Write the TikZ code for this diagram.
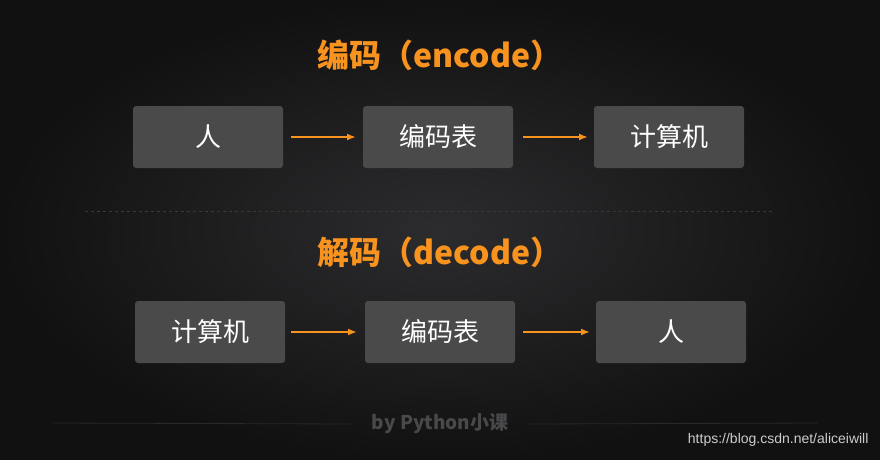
\documentclass[tikz,border=0pt]{standalone}
\usepackage{fontspec}
\setmainfont{Noto Sans CJK SC}
\newfontfamily\urlfont{Liberation Sans}
\usetikzlibrary{positioning,shadings,arrows.meta}
\definecolor{codeorange}{HTML}{F7931E}
\definecolor{boxgray}{HTML}{4A4A4A}
\definecolor{bgcenter}{HTML}{2C2C2E}
\definecolor{bgedge}{HTML}{111112}
\tikzset{
    %Define style for boxes
    cbox/.style={
           rectangle,
           rounded corners=3pt,
           fill=boxgray,
           text=white,
           minimum width=150pt,
           minimum height=62pt,
           font=\fontsize{26}{26}\selectfont},
    % Define arrow style
    parrow/.style={
           -{Latex[length=9pt,width=7pt]},
           codeorange,
           line width=2pt},
    ctitle/.style={
           text=codeorange,
           font=\fontsize{32}{32}\selectfont\bfseries}
}
\begin{document}
\begin{tikzpicture}[x=1pt,y=-1pt]
\shade[inner color=bgcenter,outer color=bgedge] (0,0) rectangle (880,460);
\useasboundingbox (0,0) rectangle (880,460);
 %titles
\node[ctitle] (enc) at (440,55) {编码（encode）};
\node[ctitle] (dec) at (440,252) {解码（decode）};
 %upper row
\node[cbox] (P1) at (208,137) {人};
\node[cbox] (T1) at (438,137) {编码表};
\node[cbox] (C1) at (669,137) {计算机};
\draw[parrow] (P1.east) ++(8,0) coordinate (a1) -- (356,137) coordinate (b1);
\draw[parrow] (T1.east) ++(10,0) coordinate (a2) -- (588,137) coordinate (b2);
 %separator
\draw[dashed, gray!45!black, line width=0.8pt] (85,211) -- (772,211);
 %lower row
\node[cbox] (C2) at (210,332) {计算机};
\node[cbox] (T2) at (440,332) {编码表};
\node[cbox] (P2) at (671,332) {人};
\draw[parrow] (C2.east) ++(6,0) coordinate (a3) -- (357,332) coordinate (b3);
\draw[parrow] (T2.east) ++(8,0) coordinate (a4) -- (590,332) coordinate (b4);
 %footer
\node[text=white!14!bgcenter, font=\fontsize{19}{19}\selectfont\bfseries, minimum width=180pt] (by) at (440,424) {by Python小课};
\draw[white!10!bgedge, line width=0.8pt] (52,423) -- (by.west);
\draw[white!10!bgedge, line width=0.8pt] (by.east) -- (818,423);
\node[anchor=east, text=white!80!black, font=\urlfont\fontsize{14}{14}\selectfont] (url) at (872,440) {https://blog.csdn.net/aliceiwill};
\end{tikzpicture}
\end{document}
